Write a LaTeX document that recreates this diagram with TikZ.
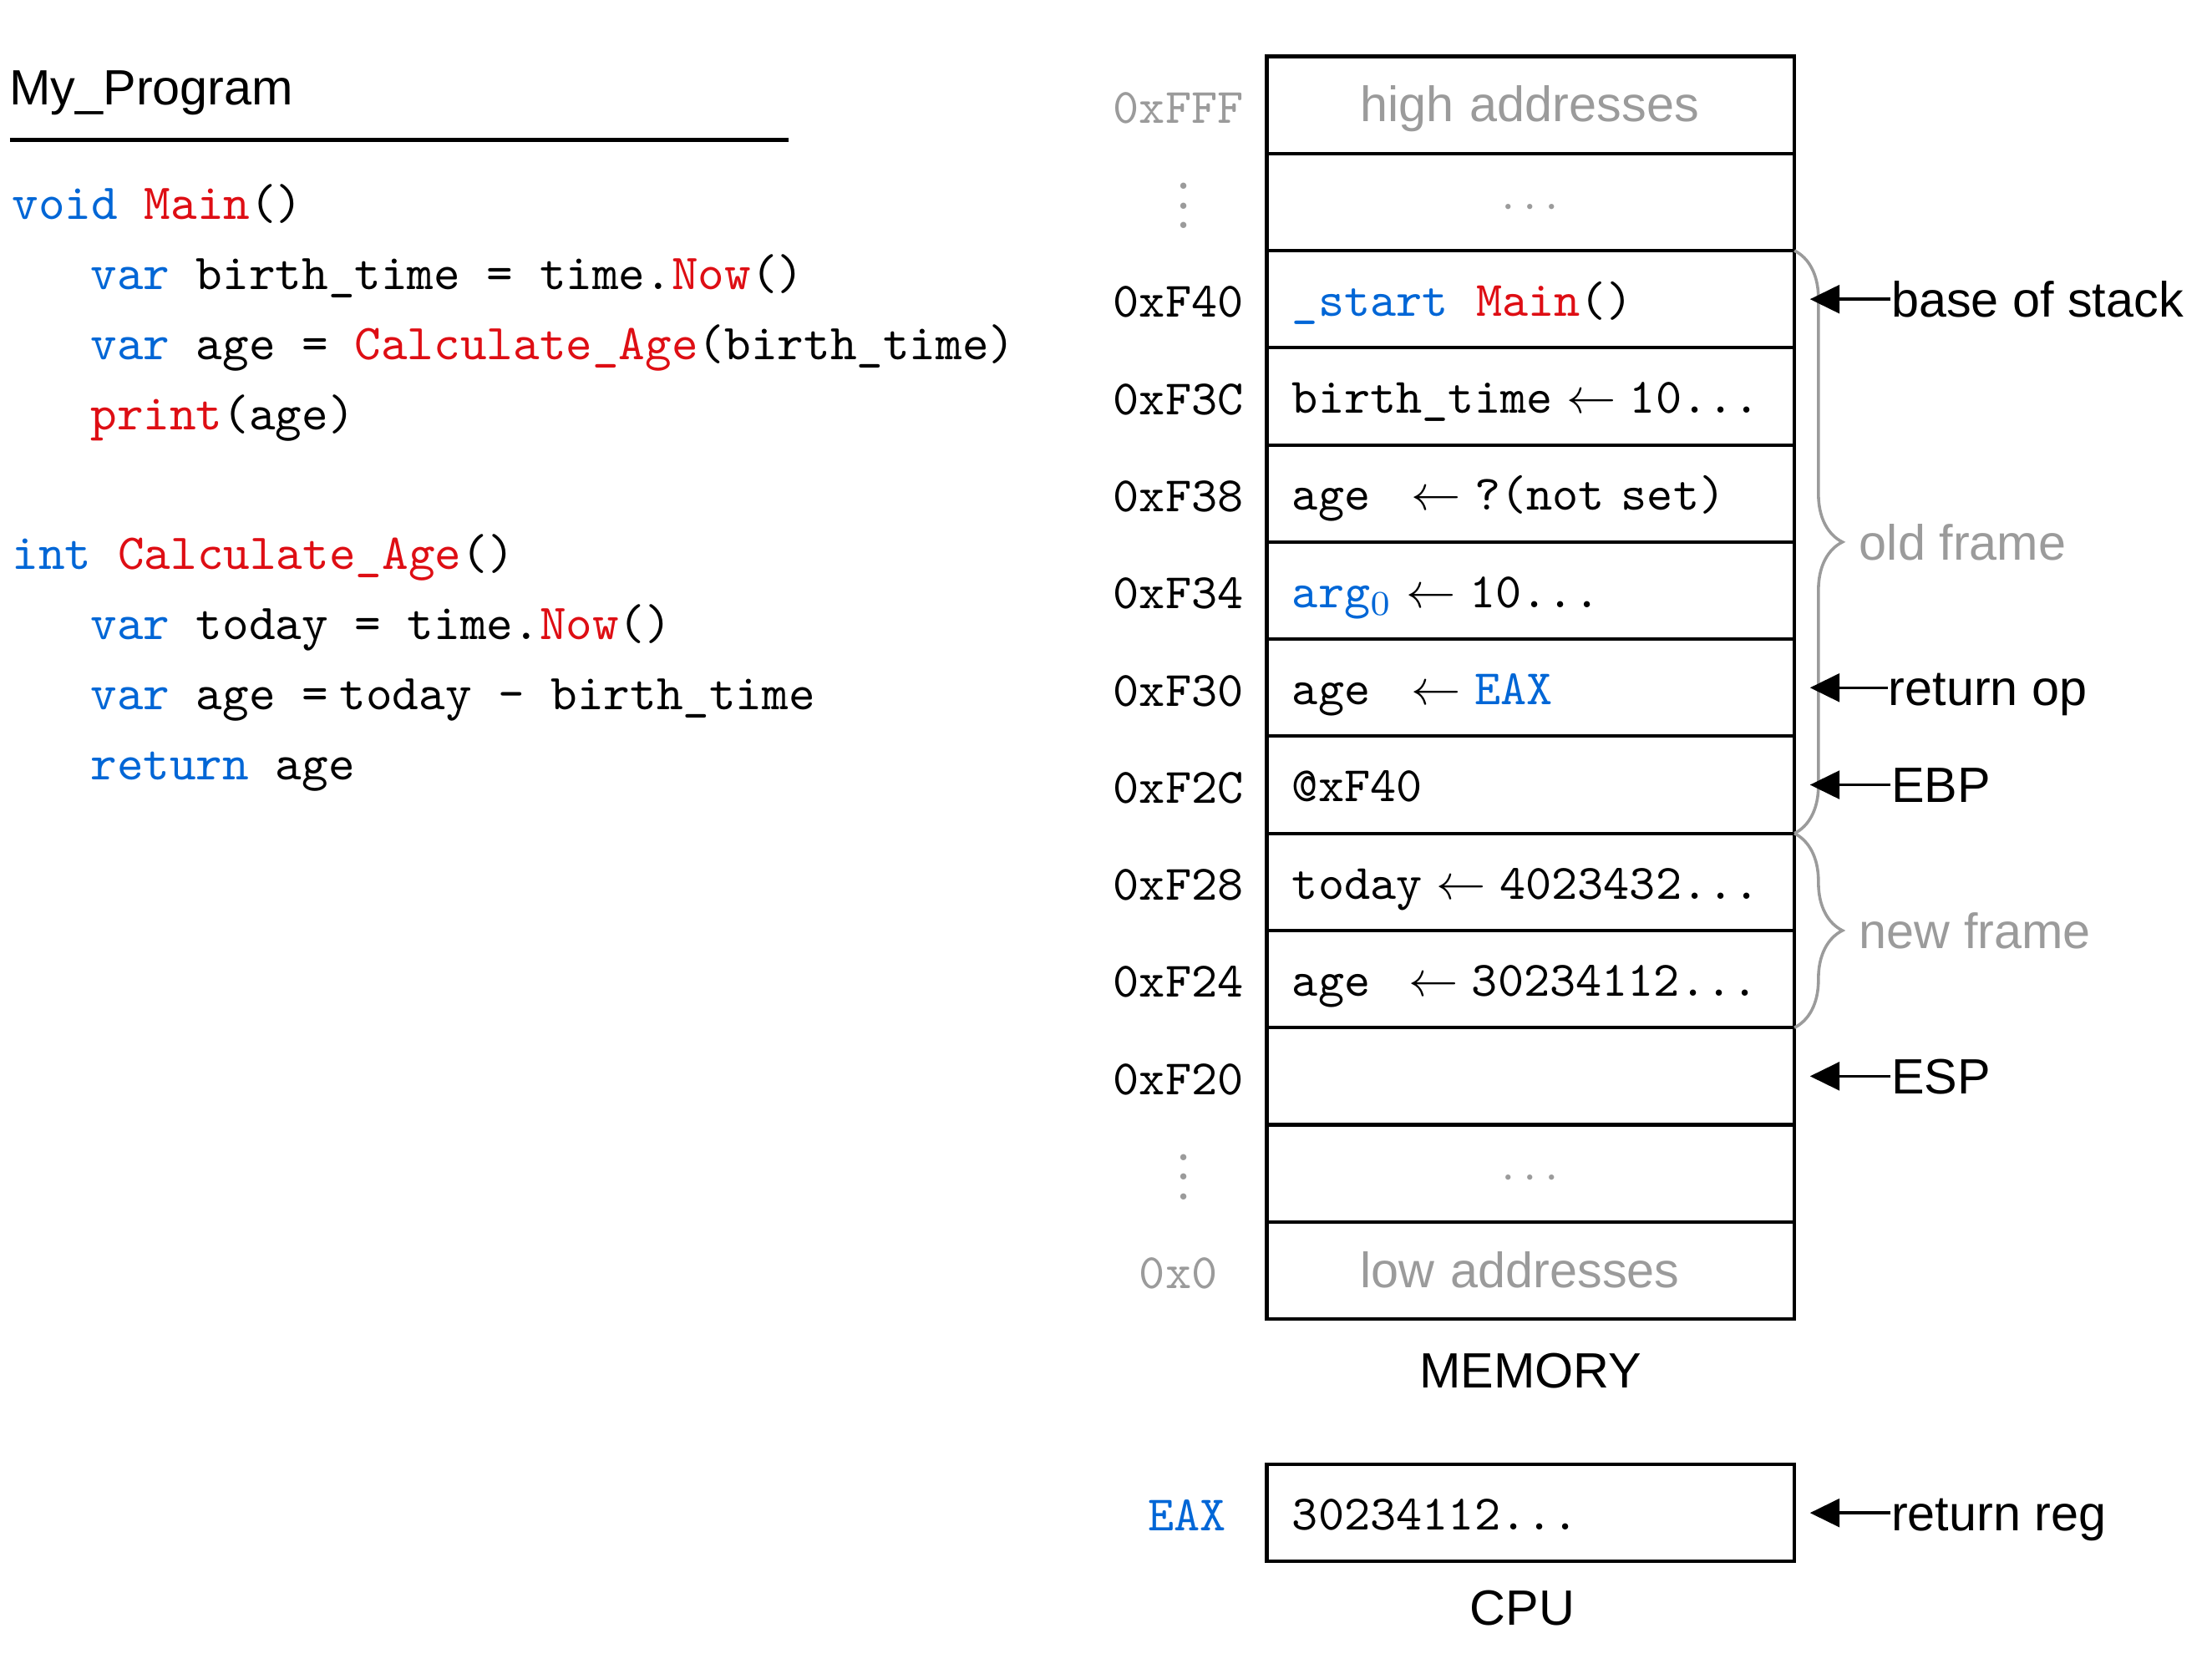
\documentclass[tikz,border=0pt]{standalone}
\usepackage{amsmath}
\usepackage{fontspec}
\setsansfont{Liberation Sans}
\newfontfamily\codefont{Latin Modern Mono}[Scale=1.015]
\usepackage{xcolor}
\usepackage{tikz}
\usetikzlibrary{arrows.meta, positioning, decorations.pathreplacing}

\definecolor{kwblue}{RGB}{0,102,214}
\definecolor{fnred}{RGB}{222,14,20}
\definecolor{softgray}{RGB}{155,155,155}

\begin{document}
\begin{tikzpicture}[
        node distance=0pt,
        cell/.style={rectangle, draw, line width=0.7pt, outer sep=0pt, minimum width=3.74cm, minimum height=0.6885cm, text width=3.38cm, inner xsep=0.18cm, inner ysep=0pt, align=left, text height=0.9em, text depth=0.22em},
        addr/.style={font=\ttfamily, minimum width=1cm, inner sep=0pt, align=center, text height=0.7em, text depth=0.25em, yshift=-0.05cm},
        code/.style={font=\codefont, anchor=west, inner sep=0pt, text height=0.7em, text depth=0.25em},
        lbl/.style={font=\sffamily, inner sep=0pt, text height=0.72em, text depth=0pt},
        ptr/.style={-{Triangle[length=2.1mm, width=2mm]}, line width=0.6pt, shorten >=0.11cm},
        brc/.style={decorate, decoration={brace, amplitude=0.34cm}, softgray, line width=0.6pt}
    ]
        \useasboundingbox (0,0) rectangle (15.68,-11.90);

        \node[lbl, anchor=west] (title) at (0.06,-0.614) {My\_Program};
        \coordinate (rulea) at (0.07,-0.993);
        \coordinate (ruleb) at (5.59,-0.993);
        \draw[line width=0.8pt] (rulea) -- (ruleb);

        \node[code] (l1) at (0.08,-1.478) {\textcolor{kwblue}{void} \textcolor{fnred}{Main}()};
        \node[code] (l2) at (0.635,-1.974) {\textcolor{kwblue}{var} birth\_time = time.\textcolor{fnred}{Now}()};
        \node[code] (l3) at (0.635,-2.470) {\textcolor{kwblue}{var} age = \textcolor{fnred}{Calculate\_Age}(birth\_time)};
        \node[code] (l4) at (0.635,-2.966) {\textcolor{fnred}{print}(age)};
        \node[code] (l5) at (0.08,-3.958) {\textcolor{kwblue}{int} \textcolor{fnred}{Calculate\_Age}()};
        \node[code] (l6) at (0.635,-4.454) {\textcolor{kwblue}{var} today = time.\textcolor{fnred}{Now}()};
        \node[code] (l7) at (0.635,-4.950) {\textcolor{kwblue}{var} age =\hspace{0.08cm}today - birth\_time};
        \node[code] (l8) at (0.635,-5.446) {\textcolor{kwblue}{return} age};

        \node[cell, font=\sffamily, text=softgray] (high) at (10.85,-0.744) {\hspace*{0.48cm}high addresses};
        \node[cell, align=center, text=softgray, below=of high] (dotsa) {\hspace*{0.05cm}$\cdots$};
        \node[cell, below=of dotsa] (f40) {\ttfamily\textcolor{kwblue}{\_start}~\hspace{0.08cm}\textcolor{fnred}{Main}()};
        \node[cell, below=of f40] (f3c) {\ttfamily birth\_time${}\leftarrow{}$10...};
        \node[cell, below=of f3c] (f38) {\ttfamily age\hspace{0.29cm}$\leftarrow{}$?(not~set)};
        \node[cell, below=of f38] (f34) {\ttfamily\textcolor{kwblue}{arg$_0$}${}\leftarrow{}$10...};
        \node[cell, below=of f34] (f30) {\ttfamily age\hspace{0.29cm}$\leftarrow{}$\textcolor{kwblue}{EAX}};
        \node[cell, below=of f30] (f2c) {\ttfamily @xF40};
        \node[cell, below=of f2c] (f28) {\ttfamily today${}\leftarrow{}$4023432...};
        \node[cell, below=of f28] (f24) {\ttfamily age\hspace{0.27cm}$\leftarrow{}$30234112...};
        \node[cell, below=of f24] (f20) {};
        \node[cell, align=center, text=softgray, below=of f20] (dotsb) {\hspace*{0.05cm}$\cdots$};
        \node[cell, font=\sffamily, text=softgray, below=of dotsb] (low) {\hspace*{0.48cm}low addresses};

        \node[addr, text=softgray, left=0.12cm of high] (afff) {0xFFF};
        \node[addr, text=softgray, left=0.08cm of dotsa, yshift=-0.06cm] (adotsa) {$\vdots$};
        \node[addr, left=0.12cm of f40] (af40) {0xF40};
        \node[addr, left=0.12cm of f3c] (af3c) {0xF3C};
        \node[addr, left=0.12cm of f38] (af38) {0xF38};
        \node[addr, left=0.12cm of f34] (af34) {0xF34};
        \node[addr, left=0.12cm of f30] (af30) {0xF30};
        \node[addr, left=0.12cm of f2c] (af2c) {0xF2C};
        \node[addr, left=0.12cm of f28] (af28) {0xF28};
        \node[addr, left=0.12cm of f24] (af24) {0xF24};
        \node[addr, left=0.12cm of f20] (af20) {0xF20};
        \node[addr, text=softgray, left=0.08cm of dotsb, yshift=-0.06cm] (adotsb) {$\vdots$};
        \node[addr, text=softgray, left=0.12cm of low] (azero) {0x0};

        \draw[brc] (f40.north east) -- (f2c.south east) node[lbl, midway, right=0.45cm] (oldfr) {old frame};
        \draw[brc] (f28.north east) -- (f24.south east) node[lbl, midway, right=0.45cm] (newfr) {new frame};

        \node[lbl, right=0.68cm of f40] (base) {base of stack};
        \node[lbl, right=0.66cm of f30] (retop) {return op};
        \node[lbl, right=0.68cm of f2c] (ebp) {EBP};
        \node[lbl, right=0.68cm of f20] (esp) {ESP};
        \draw[ptr] (base) -- (f40);
        \draw[ptr] (retop) -- (f30);
        \draw[ptr] (ebp) -- (f2c);
        \draw[ptr] (esp) -- (f20);

        \node[lbl, below=0.23cm of low] (memlbl) {MEMORY};
        \node[cell, below=1.03cm of low] (cpu) {\ttfamily 30234112...};
        \node[lbl, below=0.19cm of cpu, xshift=-0.06cm] (cpulbl) {CPU};
        \node[addr, text=kwblue, left=0.06cm of cpu] (eax) {EAX};
        \node[lbl, right=0.68cm of cpu] (retreg) {return reg};
        \draw[ptr] (retreg) -- (cpu);
    \end{tikzpicture}
\end{document}
